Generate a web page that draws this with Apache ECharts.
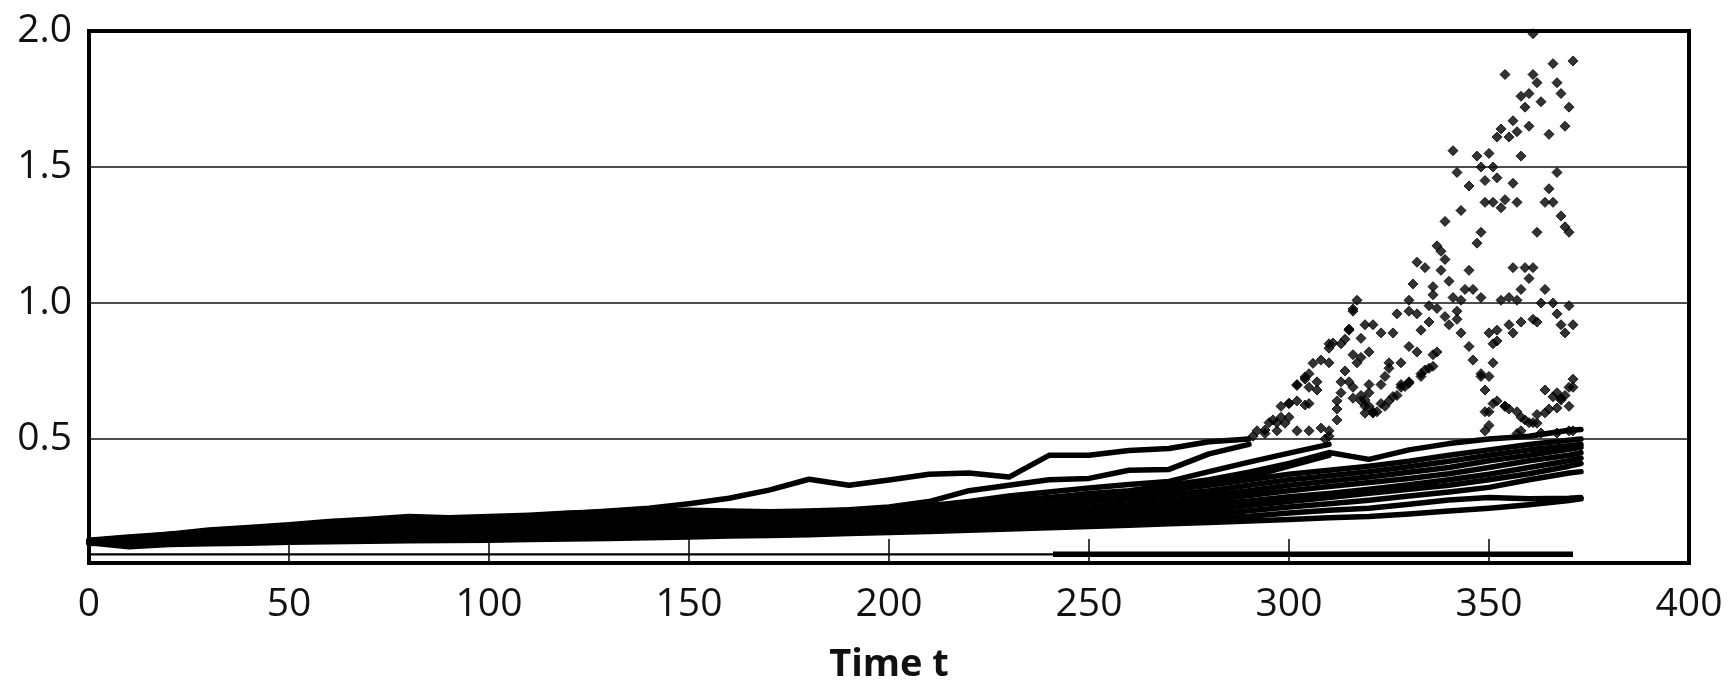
<!DOCTYPE html>
<html>
<head>
<meta charset="utf-8">
<script src="https://cdn.jsdelivr.net/npm/echarts@6/dist/echarts.min.js"></script>
<style>
  html, body { margin: 0; padding: 0; background: #fff; }
  #chart { width: 1731px; height: 683px; }
</style>
</head>
<body>
<div id="chart"></div>
<script>
// Simulated paths over time t. Smooth stretches are sampled every 10 steps;
// the late, strongly fluctuating stretches are given as individual points.
const tGrid = [0,10,20,30,40,50,60,70,80,90,100,110,120,130,140,150,160,170,180,190,
               200,210,220,230,240,250,260,270,280,290,300,310,320,330,340,350,360,370,373];

const pathL1 = [.118,.104,.112,.115,.117,.12,.122,.124,.126,.127,.128,.13,.132,.134,.137,.14,.143,.145,.148,.152,
                .156,.16,.164,.169,.174,.178,.183,.188,.193,.198,.204,.21,.215,.224,.235,.245,.258,.274,.28];
const pathL2 = [.122,.112,.118,.12,.124,.127,.13,.134,.138,.14,.142,.145,.147,.149,.151,.154,.156,.158,.16,.163,
                .166,.17,.174,.18,.185,.19,.196,.2,.208,.216,.228,.238,.245,.26,.276,.285,.28,.282,.285];
const pathP3 = [.12,.11,.118,.122,.125,.126,.128,.131,.134,.136,.138,.14,.143,.146,.148,.15,.152,.155,.158,.162,
                .165,.17,.176,.182,.188,.193,.2,.21,.222,.236,.25,.262,.275,.29,.305,.322,.35,.375,.38];
const pathP4 = [.116,.12,.124,.128,.13,.131,.135,.138,.142,.144,.146,.15,.153,.156,.158,.16,.163,.166,.17,.173,
                .176,.18,.187,.195,.203,.21,.218,.228,.24,.255,.27,.285,.3,.315,.33,.35,.372,.4,.41];
const pathP5 = [.124,.127,.13,.133,.136,.138,.142,.147,.15,.153,.155,.158,.162,.166,.168,.17,.172,.176,.18,.183,
                .186,.19,.197,.205,.214,.222,.232,.245,.258,.272,.288,.3,.315,.332,.35,.37,.395,.42,.43];
const pathP6 = [.119,.132,.136,.14,.144,.146,.15,.155,.158,.16,.162,.165,.17,.175,.178,.18,.183,.186,.19,.193,
                .196,.2,.208,.218,.226,.235,.246,.26,.275,.292,.31,.325,.34,.355,.372,.395,.42,.44,.45];
const pathP7 = [.126,.138,.142,.146,.15,.153,.157,.162,.166,.168,.17,.175,.18,.185,.188,.19,.193,.197,.2,.203,
                .206,.212,.22,.23,.24,.25,.262,.276,.292,.31,.33,.345,.36,.378,.395,.42,.44,.462,.47];
const pathP8 = [.121,.125,.135,.145,.152,.158,.165,.17,.176,.178,.18,.185,.19,.195,.198,.2,.202,.206,.21,.212,
                .215,.222,.232,.244,.256,.268,.28,.294,.31,.33,.35,.365,.38,.398,.418,.44,.46,.475,.48];
const pathP9 = [.128,.14,.15,.158,.163,.166,.172,.18,.188,.19,.192,.196,.2,.205,.208,.21,.212,.215,.22,.224,
                .228,.236,.248,.262,.275,.285,.298,.312,.33,.35,.37,.385,.4,.418,.44,.46,.48,.495,.5];
const pathU1 = [.12,.13,.14,.152,.16,.163,.168,.175,.182,.186,.19,.195,.2,.204,.207,.21,.213,.218,.222,.228,
                .235,.245,.255,.268,.283,.3,.31,.33,.35,.378,.41,.45,.425,.46,.483,.5,.51,.532,.535];
// Paths that turn volatile late on: smooth part only (continued by the burst points)
const pathT1 = [.125,.13,.135,.145,.16,.17,.19,.195,.2,.2,.205,.215,.225,.235,.245,.262,.282,.312,.352,.33,
                .349,.37,.375,.36,.44,.44,.458,.465,.49,.5];
const pathT2 = [.12,.135,.15,.165,.175,.185,.197,.205,.215,.21,.215,.22,.228,.232,.235,.238,.235,.232,.235,.24,
                .25,.27,.31,.33,.35,.355,.385,.388,.445,.48];
const pathT3 = [.118,.125,.14,.152,.162,.17,.176,.183,.19,.195,.2,.205,.21,.215,.218,.22,.222,.225,.23,.238,
                .245,.255,.27,.29,.305,.32,.333,.344,.38,.415,.448,.48];
const pathT4 = [.123,.13,.145,.16,.17,.178,.185,.19,.198,.2,.205,.21,.215,.22,.222,.225,.228,.23,.233,.237,
                .24,.25,.262,.275,.285,.295,.3,.312,.335,.36,.4,.44];

// Late fluctuating stretches, point by point [t, value]
const burstUpper = [
  [361,1.99],[366,1.88],[371,1.89],[354,1.84],[361,1.84],[362,1.81],[367,1.81],[358,1.76],[360,1.77],[368,1.77],
  [359,1.72],[363,1.74],[370,1.72],[356,1.67],[360,1.65],[353,1.64],[352,1.61],[355,1.61],[357,1.63],[365,1.62],
  [369,1.65],[341,1.56],[347,1.54],[350,1.55],[358,1.54],[348,1.50],[351,1.50],[342,1.48],[367,1.48],[345,1.43],
  [349,1.45],[352,1.46],[356,1.44],[365,1.42],[349,1.37],[351,1.37],[354,1.38],[357,1.37],[353,1.35],[364,1.37],
  [366,1.37],[368,1.32],[343,1.34],[339,1.30],[369,1.28],[370,1.26],[362,1.26],[348,1.26],[347,1.22],[337,1.21],
  [338,1.19],[339,1.16],[332,1.15],[334,1.13],[338,1.12],[345,1.12],[340,1.08],[331,1.07],[336,1.06],[336,1.03],
  [356,1.13],[359,1.13],[361,1.13],[360,1.09],[358,1.05],[364,1.05],[344,1.05],[346,1.05],[348,1.02],[341,1.02],
  [343,1.01],[330,1.01],[317,1.01],[353,1.01],[355,1.02],[357,1.01],[363,1.00],[366,1.00]
];
const burstLower = [
  [370,0.99],[316,0.97],[367,0.96],[327,0.96],[330,0.97],[332,0.96],[335,0.99],[337,0.98],[339,0.95],[342,0.97],
  [342,0.94],[340,0.92],[343,0.89],[335,0.93],[333,0.90],[319,0.92],[321,0.92],[323,0.89],[326,0.89],[315,0.90],
  [318,0.87],[310,0.85],[313,0.85],[318,0.80],[320,0.82],[308,0.79],[310,0.78],[316,0.81],[317,0.78],[325,0.78],
  [328,0.78],[314,0.75],[313,0.71],[315,0.71],[320,0.70],[323,0.70],[328,0.70],[330,0.71],[333,0.74],[335,0.76],
  [305,0.74],[304,0.72],[302,0.70],[307,0.71],[324,0.73],[325,0.76],[330,0.84],[332,0.82],[336,0.81],[337,0.82],
  [345,0.84],[346,0.79],[348,0.74],[350,0.73],[351,0.78],[350,0.89],[352,0.90],[355,0.92],[356,0.89],[358,0.93],
  [361,0.94],[362,0.93],[351,0.85],[352,0.86],[368,0.92],[371,0.92],[369,0.89],[371,0.72],[370,0.69],[349,0.68],
  [364,0.68],[307,0.68],[300,0.63],[302,0.64],[305,0.63],[298,0.62],[297,0.56],[295,0.56],[300,0.58],[292,0.53],
  [294,0.52],[291,0.51],[297,0.53],[302,0.53],[305,0.53],[308,0.54],[310,0.53],[310,0.51],[309,0.50],[312,0.61],
  [312,0.57],[312,0.64],[313,0.67],[316,0.69],[316,0.65],[318,0.64],[319,0.62],[321,0.60],[322,0.60],[318,0.66],
  [320,0.67],[323,0.63],[325,0.64],[327,0.66],[328,0.69],[351,0.63],[352,0.64],[354,0.62],[355,0.61],[357,0.60],
  [358,0.58],[360,0.56],[350,0.60],[350,0.55],[349,0.53],[367,0.67],[368,0.65],[370,0.62],[371,0.69],[365,0.61],
  [362,0.59],[361,0.56],[358,0.53],[357,0.52],[370,0.53],[371,0.53],[348,0.73],[349,0.60],[354,0.62],[359,0.57],
  [366,0.655],[368,0.643],[369,0.66],[367,0.614],[364,0.596],[362,0.558],[363,0.522],[367,0.522],[319,0.643],
  [320,0.62],[319,0.595],[321,0.595],[324,0.62],[326,0.656],[329,0.693],[330,0.705],[333,0.73],[334,0.754],
  [336,0.767],[298,0.58],[296,0.57],[294,0.533],[299,0.558],[300,0.631],[304,0.625],[304,0.728],[302,0.697],
  [305,0.69],[306,0.778],[311,0.853],[310,0.834],[314,0.867],[315,0.904],[316,0.978]
];

// Constant lower level: thin stretch, then a heavier stretch
const floorLevel = 0.076;
const floorThin = [[0, floorLevel], [241, floorLevel]];
const floorThick = [[241, floorLevel], [371, floorLevel]];

const xTicks = { min: 0, max: 400, step: 50 };
const yLabelValues = [0.5, 1.0, 1.5, 2.0];
const yGridValues = [0.5, 1.0, 1.5];
const yRange = { min: 0.044, max: 2.0 };

const smoothPaths = [pathL1, pathL2, pathP3, pathP4, pathP5, pathP6, pathP7, pathP8, pathP9, pathU1,
                     pathT1, pathT2, pathT3, pathT4];

const FONT = '"Open Sans", "Noto Sans", sans-serif';
const INK = '#000';

function toPairs(values) {
  const out = [];
  values.forEach((v, i) => { if (v != null) out.push([tGrid[i], v]); });
  return out;
}

const series = [];

// horizontal reference lines
series.push({
  type: 'line', data: [], silent: true, z: 1,
  markLine: {
    silent: true, symbol: 'none', animation: false,
    label: { show: false },
    lineStyle: { color: '#111', width: 1.6, type: 'solid' },
    data: yGridValues.map(v => ({ yAxis: v }))
  }
});

series.push({
  type: 'line', data: floorThin, showSymbol: false, silent: true, z: 2,
  lineStyle: { color: INK, width: 2.2 }
});
series.push({
  type: 'line', data: floorThick, showSymbol: false, silent: true, z: 2,
  lineStyle: { color: INK, width: 5.5, cap: 'butt' }
});

smoothPaths.forEach(p => {
  series.push({
    type: 'line', data: toPairs(p), showSymbol: false, silent: true, z: 3,
    sampling: 'none',
    lineStyle: { color: INK, width: 5.5, join: 'round', cap: 'round' }
  });
});

[burstUpper, burstLower].forEach(pts => {
  series.push({
    type: 'scatter', data: pts, symbol: 'diamond', symbolSize: 10, silent: true, z: 3,
    itemStyle: { color: INK, borderColor: INK, borderWidth: 1 }
  });
});

const chart = echarts.init(document.getElementById('chart'), null, { renderer: 'canvas' });
chart.setOption({
  animation: false,
  backgroundColor: '#fff',
  grid: {
    left: 89, right: 42, top: 31, bottom: 120,
    outerBoundsMode: 'none',
    show: true, borderColor: INK, borderWidth: 4, backgroundColor: 'transparent'
  },
  xAxis: {
    type: 'value', min: xTicks.min, max: xTicks.max, interval: xTicks.step,
    axisLine: { show: false },
    axisTick: { show: true, inside: true, length: 24, lineStyle: { color: INK, width: 1.5 } },
    splitLine: { show: false },
    axisLabel: { fontFamily: FONT, fontSize: 39, color: '#111', margin: 22 },
    name: 'Time t', nameLocation: 'middle', nameGap: 83,
    nameTextStyle: { fontFamily: FONT, fontWeight: 'bold', fontSize: 38, color: '#111' }
  },
  yAxis: {
    type: 'value', min: yRange.min, max: yRange.max,
    axisLine: { show: false },
    axisTick: { show: false },
    splitLine: { show: false },
    axisLabel: {
      customValues: yLabelValues,
      formatter: v => Number(v).toFixed(1),
      fontFamily: FONT, fontSize: 39, color: '#111', margin: 17
    }
  },
  series: series
});
</script>
</body>
</html>
